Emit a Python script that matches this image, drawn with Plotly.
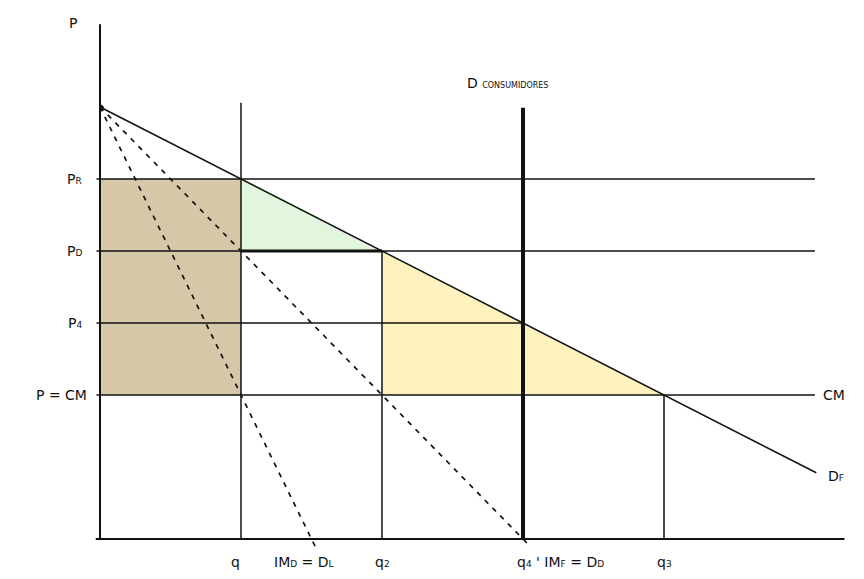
import plotly.graph_objects as go

# ---------------- Data ----------------
# price levels (vertical axis units)
p_cm = 2
p_4 = 3
p_d = 4
p_r = 5
p_max = 6

# quantities (horizontal axis units)
q_1 = 1
q_2 = 2
q_4 = 3
q_3 = 4

# demand curves / marginal revenue (intercept, slope)
dr_line = (6, -1)      # Dr
imr_line = (6, -2)     # IMr = Dd
imd_line = (6, -4)     # IMd = DL

price_labels = [
    "P<span style='font-size:9px'>R</span>",
    "P<span style='font-size:9px'>D</span>",
    "P<span style='font-size:9px'>4</span>",
    "P = CM",
]
price_label_values = [p_r, p_d, p_4, p_cm]
price_label_x = [-0.11, -0.11, -0.11, -0.08]

qty_labels = [
    "q",
    "IM<span style='font-size:9px'>D</span> = D<span style='font-size:9px'>L</span>",
    "q<span style='font-size:9px'>2</span>",
    "q<span style='font-size:9px'>4</span> ' IM<span style='font-size:9px'>F</span> = D<span style='font-size:9px'>D</span>",
    "q<span style='font-size:9px'>3</span>",
]
qty_label_values = [0.96, 1.22, 2.0, 2.94, 4.0]
qty_label_anchor = ["center", "left", "center", "left", "center"]

FONT = "DejaVu Sans"
BLACK = "#111111"

# page offset (body margin) and scale in px per unit
OFF = 8
PX_Q = 141
PX_P = 72
X0 = 100 - OFF   # q = 0
Y0 = 539 - OFF   # p = 0


def line_y(params, q):
    a, b = params
    return a + b * q


fig = go.Figure()

# ---------------- Shaded areas ----------------
fig.add_trace(go.Scatter(
    x=[0, q_1, q_1, 0, 0], y=[p_cm, p_cm, p_r, p_r, p_cm],
    fill="toself", fillcolor="#d7c7a9", line=dict(width=0), mode="lines",
))
fig.add_trace(go.Scatter(
    x=[q_1, q_2, q_1, q_1], y=[p_r, p_d, p_d, p_r],
    fill="toself", fillcolor="#e2f6dd", line=dict(width=0), mode="lines",
))
fig.add_trace(go.Scatter(
    x=[q_2, q_3, q_2, q_2], y=[p_d, p_cm, p_cm, p_d],
    fill="toself", fillcolor="#fff2bf", line=dict(width=0), mode="lines",
))


def seg(x, y, width=1.5, dash="solid"):
    fig.add_trace(go.Scatter(
        x=x, y=y, mode="lines",
        line=dict(color=BLACK, width=width, dash=dash),
    ))


# ---------------- Horizontal price lines ----------------
seg([-0.025, 5.07], [p_r, p_r])
seg([-0.025, 5.07], [p_d, p_d])
seg([-0.025, q_4], [p_4, p_4])
seg([-0.025, 5.07], [p_cm, p_cm])
seg([q_1, q_2], [p_d, p_d], width=3)

# ---------------- Vertical quantity lines ----------------
seg([q_1, q_1], [0, 6.06])
seg([q_2, q_2], [0, p_d])
seg([q_4, q_4], [0, 5.99], width=4)
seg([q_3, q_3], [0, p_cm])

# ---------------- Curves ----------------
seg([0, 5.08], [line_y(dr_line, 0), line_y(dr_line, 5.08)])
seg([0, 3.05], [line_y(imr_line, 0), line_y(imr_line, 3.05)], width=1.7, dash="5px,6px")
seg([0, 1.53], [line_y(imd_line, 0), line_y(imd_line, 1.53)], width=1.7, dash="5px,6px")

# ---------------- Axes ----------------
seg([0, 0], [0, 7.15], width=2)
seg([-0.03, 5.28], [0, 0], width=2)

fig.add_trace(go.Scatter(
    x=[0.01], y=[p_max], mode="markers",
    marker=dict(color=BLACK, size=6, symbol="triangle-right"),
))

# ---------------- Labels ----------------
annotations = [
    dict(x=-0.19, y=7.17, text="P", xanchor="center"),
    dict(x=5.11, y=p_cm, text="CM", xanchor="left"),
    dict(x=5.15, y=0.87, text="D<span style='font-size:9px'>F</span>", xanchor="left"),
    dict(x=2.59, y=6.33, text="D <span style='font-size:8px'>CONSUMIDORES</span>", xanchor="left"),
]
for txt, val, xpos in zip(price_labels, price_label_values, price_label_x):
    annotations.append(dict(x=xpos, y=val, text=txt, xanchor="right"))
for txt, val, anc in zip(qty_labels, qty_label_values, qty_label_anchor):
    annotations.append(dict(x=val, y=-0.32, text=txt, xanchor=anc))

for a in annotations:
    a.update(showarrow=False, yanchor="middle", font=dict(family=FONT, size=14, color=BLACK))

fig.update_layout(
    width=864, height=579,
    margin=dict(l=0, r=0, t=0, b=0),
    paper_bgcolor="white", plot_bgcolor="white",
    showlegend=False,
    annotations=annotations,
    xaxis=dict(range=[-X0 / PX_Q, (864 - X0) / PX_Q], visible=False, fixedrange=True),
    yaxis=dict(range=[-(579 - Y0) / PX_P, Y0 / PX_P], visible=False, fixedrange=True),
)

fig.write_html("out.html")
